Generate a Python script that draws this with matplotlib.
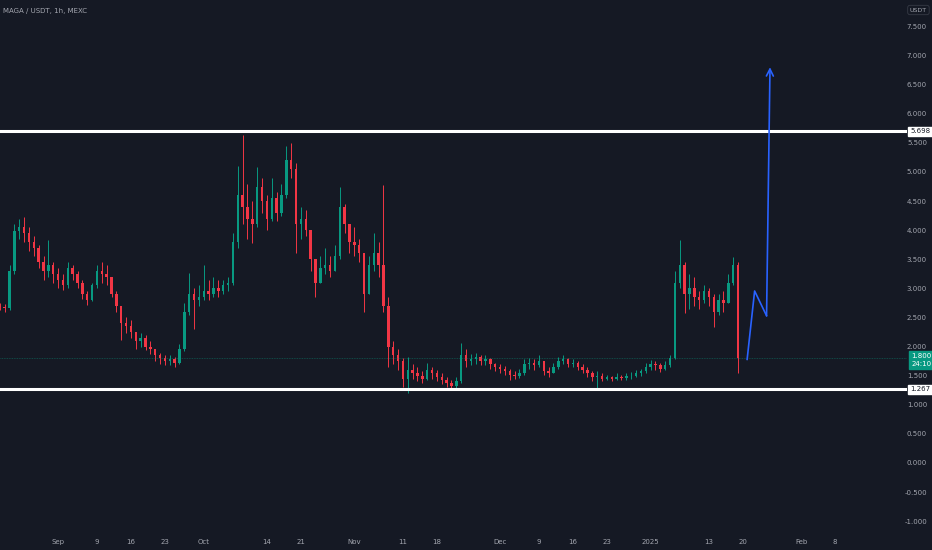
import matplotlib
matplotlib.use("Agg")
import matplotlib.pyplot as plt
import pandas as pd

# daily candles, starting 2024-08-20
closes = [2.68, 2.66, 3.30, 3.98, 4.05, 3.95, 3.80, 3.70, 3.45, 3.30, 3.40, 3.25,
          3.15, 3.05, 3.35, 3.25, 3.10, 2.90, 2.80, 3.05, 3.30, 3.25, 3.20, 2.90,
          2.70, 2.40, 2.35, 2.25, 2.10, 2.15, 2.00, 1.95, 1.85, 1.80, 1.75, 1.78,
          1.72, 1.95, 2.60, 2.90, 2.80, 2.85, 2.95, 2.90, 3.00, 2.95, 3.05, 3.10,
          3.80, 4.60, 4.40, 4.20, 4.10, 4.75, 4.50, 4.20, 4.55, 4.30, 4.60, 5.20,
          5.05, 4.10, 4.20, 4.00, 3.50, 3.10, 3.35, 3.40, 3.30, 3.55, 4.40, 4.10,
          3.80, 3.75, 3.60, 2.90, 3.40, 3.60, 3.40, 2.70, 2.00, 1.85, 1.75, 1.45,
          1.60, 1.55, 1.50, 1.45, 1.60, 1.55, 1.48, 1.42, 1.38, 1.32, 1.40, 1.85,
          1.75, 1.78, 1.82, 1.75, 1.78, 1.70, 1.65, 1.62, 1.58, 1.52, 1.50, 1.55,
          1.70, 1.72, 1.68, 1.75, 1.58, 1.55, 1.65, 1.75, 1.78, 1.70, 1.72, 1.65,
          1.60, 1.55, 1.48, 1.50, 1.45, 1.47, 1.45, 1.48, 1.46, 1.49, 1.50, 1.55,
          1.58, 1.65, 1.70, 1.68, 1.62, 1.68, 1.80, 3.10, 3.40, 2.90, 3.00, 2.85,
          2.80, 2.95, 2.85, 2.60, 2.80, 2.75, 3.10, 3.40, 1.80]
highs = [2.75, 2.74, 3.40, 4.10, 4.20, 4.23, 4.05, 3.90, 3.75, 3.55, 3.83, 3.45,
         3.35, 3.25, 3.45, 3.40, 3.30, 3.15, 2.95, 3.10, 3.40, 3.45, 3.40, 3.20,
         2.95, 2.70, 2.50, 2.45, 2.25, 2.23, 2.20, 2.10, 1.95, 1.89, 1.85, 1.85,
         1.82, 2.05, 2.75, 3.26, 3.00, 3.05, 3.40, 3.15, 3.20, 3.15, 3.15, 3.20,
         3.95, 5.10, 5.64, 4.80, 4.50, 5.09, 4.90, 4.60, 4.90, 4.65, 4.80, 5.45,
         5.50, 5.15, 4.40, 4.35, 4.00, 3.50, 3.55, 3.70, 3.55, 3.75, 4.74, 4.45,
         4.10, 4.05, 3.85, 3.60, 3.55, 3.95, 3.80, 4.78, 2.85, 2.10, 1.95, 1.80,
         1.82, 1.70, 1.65, 1.58, 1.72, 1.65, 1.60, 1.55, 1.48, 1.42, 1.48, 2.06,
         1.95, 1.88, 1.89, 1.85, 1.85, 1.80, 1.72, 1.70, 1.66, 1.62, 1.58, 1.62,
         1.78, 1.80, 1.78, 1.85, 1.76, 1.65, 1.72, 1.82, 1.86, 1.80, 1.78, 1.75,
         1.70, 1.65, 1.58, 1.58, 1.55, 1.52, 1.50, 1.55, 1.52, 1.55, 1.56, 1.60,
         1.62, 1.72, 1.77, 1.75, 1.72, 1.75, 1.86, 3.30, 3.83, 3.45, 3.25, 3.20,
         2.95, 3.05, 3.00, 2.90, 2.90, 2.95, 3.25, 3.54, 3.45]
lows = [2.62, 2.60, 2.62, 3.25, 3.85, 3.80, 3.65, 3.55, 3.35, 3.15, 3.20, 3.10,
        3.00, 2.97, 3.00, 3.15, 3.00, 2.82, 2.71, 2.78, 3.00, 3.10, 3.05, 2.85,
        2.60, 2.11, 2.23, 2.15, 1.95, 2.00, 1.94, 1.88, 1.75, 1.70, 1.68, 1.68,
        1.65, 1.70, 1.92, 2.55, 2.30, 2.70, 2.80, 2.80, 2.85, 2.85, 2.90, 2.95,
        3.05, 3.70, 4.10, 3.85, 3.78, 4.05, 4.30, 4.00, 4.15, 4.15, 4.25, 4.55,
        4.90, 3.60, 3.85, 3.90, 3.30, 2.85, 3.10, 3.25, 3.20, 3.30, 3.50, 3.95,
        3.60, 3.55, 3.45, 2.60, 2.90, 3.30, 3.20, 2.60, 1.65, 1.70, 1.60, 1.30,
        1.20, 1.45, 1.40, 1.38, 1.42, 1.45, 1.40, 1.36, 1.30, 1.25, 1.28, 1.38,
        1.65, 1.68, 1.70, 1.68, 1.68, 1.62, 1.58, 1.55, 1.52, 1.43, 1.44, 1.46,
        1.52, 1.62, 1.60, 1.65, 1.52, 1.48, 1.54, 1.62, 1.70, 1.65, 1.65, 1.60,
        1.55, 1.48, 1.40, 1.25, 1.40, 1.42, 1.40, 1.43, 1.42, 1.43, 1.45, 1.47,
        1.50, 1.55, 1.60, 1.60, 1.57, 1.60, 1.65, 1.78, 3.00, 2.58, 2.65, 2.70,
        2.65, 2.75, 2.70, 2.34, 2.55, 2.60, 2.75, 3.05, 1.55]
opens = [2.70] + closes[:-1]
dates = pd.date_range("2024-08-20", periods=len(closes), freq="D")

# horizontal levels and current price
resistance = 5.698
support = 1.267
last_price = 1.800

# projected path (blue drawing)
proj_dates = pd.to_datetime(["2025-01-20 21:00", "2025-01-22 10:00",
                             "2025-01-24 21:00", "2025-01-25 14:00"])
proj_prices = [1.78, 2.955, 2.53, 6.80]

tick_dates = pd.to_datetime(["2024-09-01", "2024-09-09", "2024-09-16", "2024-09-23",
                             "2024-10-01", "2024-10-14", "2024-10-21", "2024-11-01",
                             "2024-11-11", "2024-11-18", "2024-12-01", "2024-12-09",
                             "2024-12-16", "2024-12-23", "2025-01-01", "2025-01-13",
                             "2025-01-20", "2025-02-01", "2025-02-08"])
tick_labels = ["Sep", "9", "16", "23", "Oct", "14", "21", "Nov", "11", "18",
               "Dec", "9", "16", "23", "2025", "13", "20", "Feb", "8"]
price_ticks = [-1.0, -0.5, 0.0, 0.5, 1.0, 1.5, 2.0, 2.5, 3.0, 3.5,
               4.0, 4.5, 5.0, 5.5, 6.0, 6.5, 7.0, 7.5]

BG = "#151924"
TXT = "#a3a6af"
UP = "#089981"
DOWN = "#f23645"

plt.rcParams["font.family"] = ["Liberation Sans Narrow", "DejaVu Sans"]

fig = plt.figure(figsize=(9.32, 5.5), dpi=100, facecolor=BG)
ax = fig.add_axes([0, 1 - 532 / 550, 907 / 932, 532 / 550])
ax.set_facecolor(BG)

colors = [UP if c >= o else DOWN for o, c in zip(opens, closes)]
ax.vlines(dates, lows, highs, colors=colors, linewidth=0.7)
ax.bar(dates, [abs(c - o) for o, c in zip(opens, closes)],
       bottom=[min(o, c) for o, c in zip(opens, closes)],
       width=0.5, color=colors, linewidth=0)

ax.axhline(resistance, color="white", linewidth=2.2)
ax.axhline(support, color="white", linewidth=2.2)
ax.axhline(last_price, color=UP, linewidth=0.6, linestyle=(0, (1, 1)), alpha=0.5)

ax.plot(proj_dates[:-1], proj_prices[:-1], color="#2962ff", linewidth=1.2)
ax.annotate("", xy=(proj_dates[-1], proj_prices[-1]),
            xytext=(proj_dates[-2], proj_prices[-2]),
            arrowprops=dict(arrowstyle="->,head_length=0.5,head_width=0.25",
                            color="#2962ff", lw=1.2, shrinkA=0, shrinkB=0))

ax.set_xlim(pd.Timestamp("2024-08-20 01:00"), pd.Timestamp("2025-02-22 19:00"))
ax.set_ylim(-1.186, 7.955)

for s in ax.spines.values():
    s.set_visible(False)

ax.set_xticks(tick_dates)
ax.set_xticklabels(tick_labels)
ax.yaxis.tick_right()
ax.set_yticks(price_ticks)
ax.set_yticklabels(["%.3f" % v for v in price_ticks])
ax.tick_params(axis="x", length=0, pad=5, labelsize=5, colors=TXT)
ax.tick_params(axis="y", length=0, pad=14.4, labelsize=5, colors=TXT)
for lbl in ax.get_yticklabels():
    lbl.set_horizontalalignment("right")

ax.text(0.003, 0.985, "MAGA / USDT, 1h, MEXC", transform=ax.transAxes,
        fontsize=5, color=TXT, va="top", ha="left")

# price axis boxes
trans = ax.get_yaxis_transform()
for val in (resistance, support):
    ax.text(1.0035, val, "%.3f" % val, transform=trans, fontsize=5, color=BG,
            ha="left", va="center",
            bbox=dict(boxstyle="square,pad=0.25", fc="white", ec="white"))
ax.annotate("%.3f\n24:10" % last_price, xy=(1.0045, last_price), xycoords=trans,
            xytext=(0, 3.5), textcoords="offset points",
            fontsize=5, color="white", ha="left", va="top", linespacing=1.3,
            bbox=dict(boxstyle="square,pad=0.3", fc=UP, ec=UP))
fig.text(927 / 932, 1 - 10 / 550, "USDT", fontsize=4.5, color=TXT,
         ha="right", va="center",
         bbox=dict(boxstyle="round,pad=0.35", fc=BG, ec="#363a45", lw=0.6))

plt.savefig("out.png", dpi=100, facecolor=BG)
